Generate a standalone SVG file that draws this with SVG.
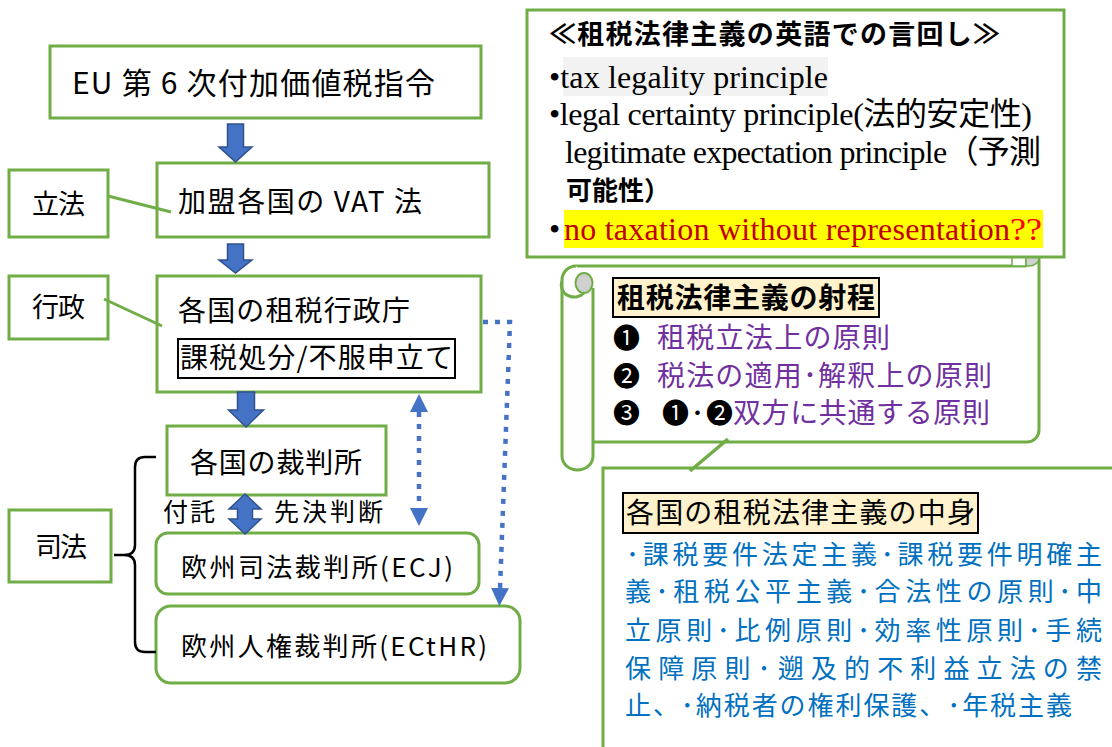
<svg xmlns="http://www.w3.org/2000/svg" width="1112" height="747" viewBox="0 0 1112 747">
<defs>
<style>
.jp{font-family:"Noto Sans CJK JP","Noto Sans",sans-serif;fill:#000}
.sf{font-family:"Liberation Serif","Noto Sans CJK JP",serif;fill:#000}
.box{fill:#fff;stroke:#70AD47;stroke-width:3}
.gl{fill:none;stroke:#70AD47;stroke-width:3}
.blk{fill:#4472C4;stroke:#2F528F;stroke-width:1.5;stroke-linejoin:miter}
.dot{fill:none;stroke:#4472C4;stroke-width:4.5;stroke-dasharray:5 7}
.pur{fill:#7030A0}
.blu{fill:#0070C0}
</style>
<marker id="ah" viewBox="0 0 18 18" refX="0" refY="9" markerWidth="18" markerHeight="18" markerUnits="userSpaceOnUse" orient="auto-start-reverse">
<path d="M0,0 L18,9 L0,18 Z" fill="#4472C4"/>
</marker>
</defs>
<rect width="1112" height="747" fill="#fff"/>

<!-- scroll (behind top box) -->
<g id="scroll">
<rect x="577" y="266" width="462" height="176" fill="#fff"/>
<path class="gl" d="M1039,256 L1039,430 A12 12 0 0 1 1027,442 L593,442"/>
<path class="gl" d="M576,266 L1026,266"/>
<rect x="1012" y="252" width="14" height="14" fill="#fff" stroke="#70AD47" stroke-width="1.5"/>
<path d="M1026,252 L1039,252 L1039,258 A10 8 0 0 1 1029,266 L1026,266 Z" fill="#D0D0D0" stroke="#70AD47" stroke-width="1.5"/>
<path class="box" d="M593,288 L593,456 A15.5 14 0 0 1 562,456 L562,280 A14 14 0 0 1 576,266"/>
<ellipse cx="584" cy="283" rx="8.5" ry="10" fill="#D0D0D0" stroke="#70AD47" stroke-width="2"/>
<path class="gl" d="M562,281 A13 12 0 0 0 584,293" stroke-width="2"/>
<rect x="613" y="278" width="266" height="39" fill="#FFF2CC" stroke="#000" stroke-width="2"/>
<text class="jp" x="617" y="308" font-size="28" font-weight="700" textLength="258" lengthAdjust="spacing">租税法律主義の射程</text>
<text class="jp" x="613" y="348" font-size="27">❶</text>
<text class="jp pur" x="657" y="348" font-size="28" textLength="233" lengthAdjust="spacing">租税立法上の原則</text>
<text class="jp" x="613" y="386" font-size="27">❷</text>
<text class="jp pur" x="657" y="386" font-size="28" textLength="335" lengthAdjust="spacing">税法の適用･解釈上の原則</text>
<text class="jp" x="613" y="423" font-size="27">❸</text>
<text class="jp" x="662" y="423" font-size="27" textLength="71" lengthAdjust="spacing">❶･❷</text>
<text class="jp pur" x="733" y="423" font-size="28" textLength="257" lengthAdjust="spacing">双方に共通する原則</text>
</g>

<!-- top right box -->
<g id="english">
<rect class="box" x="527" y="10" width="537" height="247"/>
<text class="jp" x="549" y="44" font-size="27" font-weight="700" textLength="451" lengthAdjust="spacing">≪租税法律主義の英語での言回し≫</text>
<rect x="563" y="57" width="265" height="39" fill="#F2F2F2"/>
<text class="sf" x="549" y="88" font-size="32" textLength="279" lengthAdjust="spacing">•tax legality principle</text>
<text class="sf" x="549" y="125" font-size="32" textLength="483" lengthAdjust="spacing">•legal certainty principle(法的安定性)</text>
<text class="sf" x="565" y="163" font-size="32" textLength="476" lengthAdjust="spacing">legitimate expectation principle（予測</text>
<text class="sf" x="566" y="200" font-size="26" font-weight="700">可能性）</text>
<rect x="564" y="210" width="479" height="38" fill="#FFFF00"/>
<text class="sf" x="549" y="240" font-size="32">•</text>
<text class="sf" x="564" y="240" font-size="32" style="fill:#C00000" textLength="446" lengthAdjust="spacing">no taxation without representation</text>
<text class="sf" x="1010" y="240" font-size="32" style="fill:#FF0000" textLength="32" lengthAdjust="spacingAndGlyphs">??</text>
</g>

<!-- bottom right box -->
<g id="contents">
<rect class="box" x="603" y="468" width="520" height="290" stroke-width="3.5"/>
<rect x="623" y="493" width="355" height="40" fill="#FFF2CC" stroke="#000" stroke-width="2"/>
<text class="jp" x="626" y="523" font-size="28" textLength="349" lengthAdjust="spacing">各国の租税法律主義の中身</text>
<text class="jp blu" style="fill:#0070C0" x="626" y="564" font-size="26" textLength="476" lengthAdjust="spacing">･課税要件法定主義･課税要件明確主</text>
<text class="jp blu" style="fill:#0070C0" x="625" y="601" font-size="26" textLength="477" lengthAdjust="spacing">義･租税公平主義･合法性の原則･中</text>
<text class="jp blu" style="fill:#0070C0" x="625" y="640" font-size="26" textLength="477" lengthAdjust="spacing">立原則･比例原則･効率性原則･手続</text>
<text class="jp blu" style="fill:#0070C0" x="625" y="678" font-size="26" textLength="477" lengthAdjust="spacing">保障原則･遡及的不利益立法の禁</text>
<text class="jp blu" style="fill:#0070C0" x="625" y="715" font-size="26" textLength="447" lengthAdjust="spacing">止、･納税者の権利保護、･年税主義</text>
</g>

<!-- left nodes -->
<g id="directive">
<rect class="box" x="50" y="46" width="431" height="72"/>
<text class="jp" x="72" y="94" font-size="30" textLength="363" lengthAdjust="spacing">EU 第 6 次付加価値税指令</text>
</g>
<g id="vatlaw">
<rect class="box" x="157" y="163" width="332" height="74"/>
<text class="jp" x="178" y="212" font-size="28" textLength="244" lengthAdjust="spacing">加盟各国の VAT 法</text>
</g>
<g id="legislation">
<rect class="box" x="9" y="170" width="99" height="67"/>
<text class="jp" x="32" y="214" font-size="27" textLength="53" lengthAdjust="spacing">立法</text>
</g>
<g id="taxadmin">
<rect class="box" x="157" y="276" width="324" height="116"/>
<text class="jp" x="178" y="321" font-size="28" textLength="232" lengthAdjust="spacing">各国の租税行政庁</text>
<rect x="178" y="339" width="277" height="39" fill="#fff" stroke="#000" stroke-width="2"/>
<text class="jp" x="180" y="368" font-size="28" textLength="273" lengthAdjust="spacing">課税処分/不服申立て</text>
</g>
<g id="administration">
<rect class="box" x="9" y="276" width="99" height="63"/>
<text class="jp" x="32" y="317" font-size="27" textLength="53" lengthAdjust="spacing">行政</text>
</g>
<g id="court">
<rect class="box" x="167" y="426" width="219" height="69"/>
<text class="jp" x="190" y="473" font-size="28" textLength="172" lengthAdjust="spacing">各国の裁判所</text>
</g>
<g id="ecj">
<rect class="box" x="156" y="533" width="323" height="61" rx="12"/>
<text class="jp" x="181" y="577" font-size="26" textLength="272" lengthAdjust="spacing">欧州司法裁判所(ECJ)</text>
</g>
<g id="ecthr">
<rect class="box" x="156" y="606" width="364" height="77" rx="15"/>
<text class="jp" x="181" y="656" font-size="26" textLength="306" lengthAdjust="spacing">欧州人権裁判所(ECtHR)</text>
</g>
<g id="judiciary">
<rect class="box" x="9" y="510" width="102" height="72"/>
<text class="jp" x="35" y="557" font-size="27" textLength="52" lengthAdjust="spacing">司法</text>
</g>

<!-- connectors -->
<g id="connectors">
<path class="blk" d="M227.5,124 L243.5,124 L243.5,147 L252,147 L235.5,162 L219,147 L227.5,147 Z"/>
<path class="blk" d="M227.5,244 L243.5,244 L243.5,260 L252,260 L235.5,273 L219,260 L227.5,260 Z"/>
<path class="blk" d="M237.5,392 L254.5,392 L254.5,410 L263.5,410 L246,427 L228.5,410 L237.5,410 Z"/>
<path class="blk" d="M245,494 L261,509 L252.5,509 L252.5,519 L261,519 L245,534 L229,519 L237.5,519 L237.5,509 L229,509 Z"/>
<text class="jp" x="163" y="521" font-size="25" textLength="52" lengthAdjust="spacing">付託</text>
<text class="jp" x="274" y="521" font-size="25" textLength="109" lengthAdjust="spacing">先決判断</text>
<line class="gl" x1="108" y1="196" x2="171" y2="212"/>
<line class="gl" x1="104" y1="299" x2="162" y2="326"/>
<path class="dot" d="M483,322 L510,322 L500,588" marker-end="url(#ah)"/>
<path class="dot" d="M419,412 L419,508" marker-start="url(#ah)" marker-end="url(#ah)"/>
<path d="M156,457 L145,457 Q135,457 135,467 L135,545 Q135,555 124,555 L114,555 M124,555 Q135,555 135,565 L135,642 Q135,652 145,652 L156,652" fill="none" stroke="#000" stroke-width="2.5"/>
<line x1="728" y1="439" x2="690" y2="471" stroke="#70AD47" stroke-width="3.5"/>
</g>
</svg>
